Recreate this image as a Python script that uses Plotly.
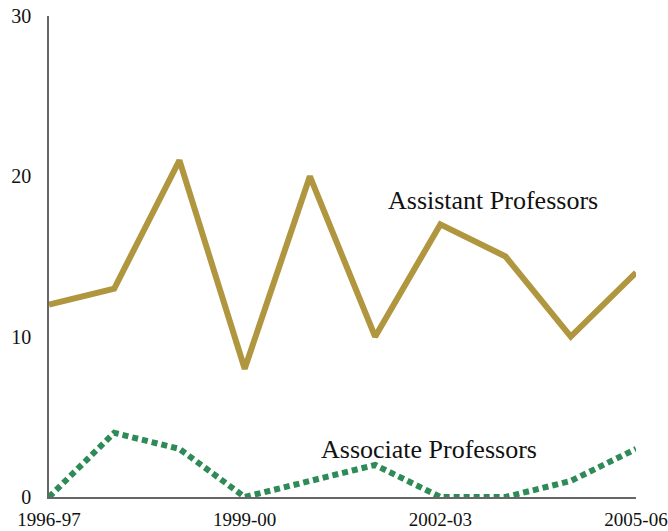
import plotly.graph_objects as go

years = ["1996-97", "1997-98", "1998-99", "1999-00", "2000-01",
         "2001-02", "2002-03", "2003-04", "2004-05", "2005-06"]
assistant = [12, 13, 21, 8, 20, 10, 17, 15, 10, 14]
associate = [0, 4, 3, 0, 1, 2, 0, 0, 1, 3]
tick_years = ["1996-97", "1999-00", "2002-03", "2005-06"]

FONT = "Liberation Serif"

fig = go.Figure()
fig.add_trace(go.Scatter(x=years, y=assistant, mode="lines",
                         line=dict(color="#B0963E", width=6),
                         showlegend=False, cliponaxis=False))
fig.add_trace(go.Scatter(x=years, y=associate, mode="lines",
                         line=dict(color="#2E8B57", width=6, dash="6px,4px"),
                         showlegend=False, cliponaxis=False))

fig.add_annotation(x=6.8, y=18.5, text="Assistant Professors", showarrow=False,
                   font=dict(family=FONT, size=26, color="#111"))
fig.add_annotation(x=5.82, y=2.95, text="Associate Professors", showarrow=False,
                   font=dict(family=FONT, size=26, color="#111"))

fig.update_layout(
    width=668, height=531,
    margin=dict(l=49, r=32, t=16, b=34, autoexpand=False),
    paper_bgcolor="white", plot_bgcolor="white",
    font=dict(family=FONT, size=20, color="#111"),
    xaxis=dict(type="category", range=[0, 9], tickmode="array",
               tickvals=tick_years, ticktext=tick_years, automargin=False,
               showgrid=False, zeroline=False, showline=True,
               linecolor="#666", linewidth=1.5, ticks="", ticklen=0,
               ticklabelstandoff=4, ticklabeloverflow="allow",
               tickfont=dict(size=19)),
    yaxis=dict(range=[0, 30], tickvals=[0, 10, 20, 30], automargin=False,
               showgrid=False, zeroline=False, showline=True,
               linecolor="#666", linewidth=1.5, ticks="", ticklen=0,
               ticklabelstandoff=12, ticklabeloverflow="allow"),
)

fig.write_html("out.html", config={"displayModeBar": False},
               post_script="document.body.style.margin='0px';")
